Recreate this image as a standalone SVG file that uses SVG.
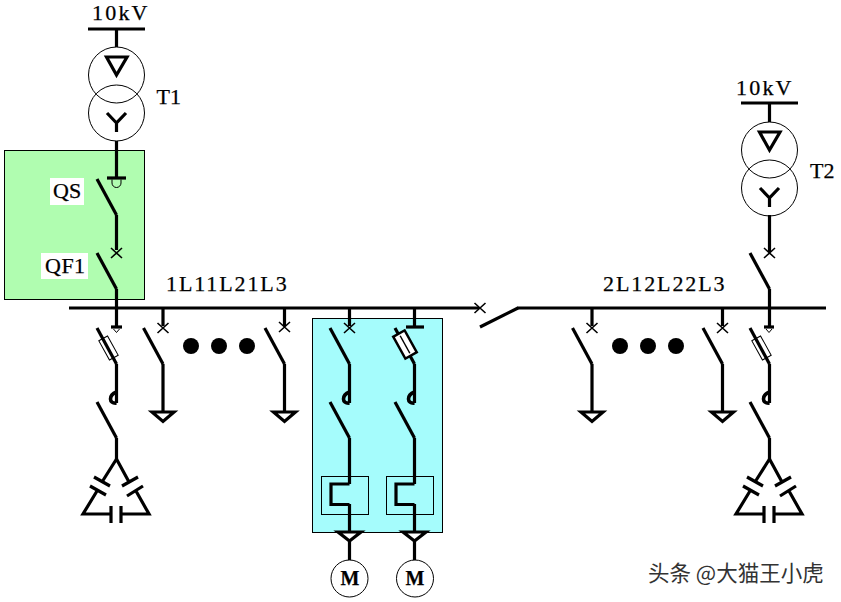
<svg xmlns="http://www.w3.org/2000/svg" xmlns:xlink="http://www.w3.org/1999/xlink" width="841" height="602" viewBox="0 0 841 602">
<style>
.w{fill:none;stroke:#000;stroke-width:3.2}
.t{fill:none;stroke:#000;stroke-width:1}
.x{fill:none;stroke:#000;stroke-width:1.6}
.c{fill:none;stroke:#000;stroke-width:1}
text{font-family:"Liberation Serif","Times New Roman",serif;font-size:22px;fill:#000;stroke:#000;stroke-width:.25px}
.m{font-size:20px;font-weight:bold;text-anchor:middle}
.wm{font-family:"Noto Sans CJK SC","Noto Sans",sans-serif;font-size:21.500px;fill:#333;stroke:#fff;stroke-width:2.500px;paint-order:stroke}
</style>
<defs>
<g id="xf"><circle class="c" cx="0" cy="0" r="28"/><circle class="c" cx="0" cy="38" r="28"/><path class="w" d="M-10 -18H10.500L0 0Z"/><path class="w" d="M-9.500 38L0 48M9.500 38L0 48V57"/></g>
<g id="sw"><path class="w" d="M-19.500 0L0 36"/></g>
<g id="cross"><path class="x" d="M-5.500 -5L5.500 5M5.500 -5L-5.500 5"/></g>
<g id="hook"><path fill="none" stroke="#000" stroke-width="3.600" d="M0 -11C-8 -8 -8 1 0 0"/></g>
<g id="ground"><path class="w" d="M-11 0H11L0 9.500Z"/></g>
<g id="caps"><path class="w" d="M0 0L-14.500 23M-22.500 18L-6.500 27M-26.500 27L-10.500 36M-19.500 32L-33.500 55H-5.500M-5.500 47V64M4.500 47V64M4.500 55H32.500L19.500 32M26.500 27L10.500 37M21.500 18L5.500 27M0 0L12.500 23"/></g>
<g id="oc"><path class="w" d="M0 0H-18.500V20.500H0"/></g>
</defs>

<g id="panels">
<rect x="4.500" y="150.500" width="140" height="149" fill="#b0fdb0" stroke="#000" stroke-width="1"/>
<rect x="312.500" y="318.500" width="130" height="214" fill="#a5fcfc" stroke="#000" stroke-width="1"/>
</g>

<g id="connectors">
<path class="w" d="M69 308H479M517 308H826"/>
<path class="w" d="M116.500 29V47M116.500 141V178M116.500 215V250M116.500 289V326"/>
<path class="w" d="M769.500 103V122M769.500 215V252M769.500 289V326"/>
<path class="w" d="M163 308V326M163 364V412M284.500 308V326M284.500 364V412"/>
<path class="w" d="M349.500 308V326M349.500 364V403M349.500 438V484M349.500 504V532M349.500 541V560"/>
<path class="w" d="M414.500 308V327M414.500 364V403M414.500 438V484M414.500 504V532M414.500 541V560"/>
<path class="w" d="M592 308V326M592 364V412M722.500 308V326M722.500 364V412"/>
<path class="w" d="M116.500 364V403M116.500 438V459M769.500 364V403M769.500 438V459"/>
</g>

<g id="source-1"><path class="w" d="M88 29H145"/><text x="92" y="20" letter-spacing="2.200">10kV</text></g>
<g id="T1"><use xlink:href="#xf" x="116.500" y="75"/><text x="156.500" y="104">T1</text></g>
<g id="QS"><path class="w" d="M107 178H126"/><path class="t" d="M112 179.500V183A4.500 4.500 0 0 0 121 183V179.500"/><use xlink:href="#sw" x="116.500" y="179"/><rect x="50" y="178" width="34" height="27" fill="#fff"/><text x="53" y="198">QS</text></g>
<g id="QF1"><use xlink:href="#cross" x="116.500" y="253"/><use xlink:href="#sw" x="116.500" y="253"/><rect x="41" y="253" width="47" height="26" fill="#fff"/><text x="45" y="273" letter-spacing="0.500">QF1</text></g>

<g id="source-2"><path class="w" d="M741 103H798"/><text x="736" y="95" letter-spacing="2.200">10kV</text></g>
<g id="T2"><use xlink:href="#xf" x="769.500" y="150"/><text x="810" y="178">T2</text></g>
<g id="QF2"><use xlink:href="#cross" x="769.500" y="253"/><use xlink:href="#sw" x="769.500" y="253"/></g>

<g id="labels"><text x="166" y="291" letter-spacing="1.900">1L11L21L3</text><text x="603" y="291" letter-spacing="1.900">2L12L22L3</text></g>

<g id="bay-cap-1">
<path class="w" d="M111 327H122"/><path class="t" d="M113.500 329L116.500 332.500L119.500 329"/>
<use xlink:href="#sw" x="116.500" y="328"/>
<rect class="t" x="-5" y="-11" width="10" height="22" transform="translate(108.500 348) rotate(-29)"/>
<use xlink:href="#hook" x="116.500" y="403"/><use xlink:href="#sw" x="116.500" y="402"/>
<use xlink:href="#caps" x="116.500" y="459"/>
</g>
<g id="bay-1L1"><use xlink:href="#cross" x="163" y="328"/><use xlink:href="#sw" x="163" y="328"/><use xlink:href="#ground" x="163" y="412"/></g>
<g id="dots-1" fill="#000"><circle cx="191" cy="346" r="8"/><circle cx="219" cy="346" r="8"/><circle cx="247" cy="346" r="8"/></g>
<g id="bay-1L3"><use xlink:href="#cross" x="284.500" y="327"/><use xlink:href="#sw" x="284.500" y="328"/><use xlink:href="#ground" x="284.500" y="412"/></g>

<g id="bay-motor-1">
<use xlink:href="#cross" x="349.500" y="328"/><use xlink:href="#sw" x="349.500" y="328"/><use xlink:href="#hook" x="349.500" y="403"/><use xlink:href="#sw" x="349.500" y="402"/>
<rect class="t" x="321.500" y="476.500" width="47" height="38"/><use xlink:href="#oc" x="349.500" y="484"/>
<path class="w" d="M338 532H361L349.500 541Z"/><circle class="c" cx="349.500" cy="578.500" r="18.500"/><text class="m" x="350" y="585">M</text>
</g>
<g id="bay-motor-2">
<path class="w" d="M406 327H424"/>
<use xlink:href="#sw" x="414.500" y="328"/>
<rect x="-6.500" y="-12.500" width="13" height="25" transform="translate(405 344.500) rotate(-29)" fill="#fff" stroke="#000" stroke-width="2.500"/>
<path d="M0 -10V10" transform="translate(405 344.500) rotate(-29)" stroke="#000" stroke-width="1.500"/>
<use xlink:href="#hook" x="414.500" y="403"/><use xlink:href="#sw" x="414.500" y="402"/>
<rect class="t" x="386.500" y="476.500" width="47" height="38"/><use xlink:href="#oc" x="414.500" y="484"/>
<path class="w" d="M403 532H426L414.500 541Z"/><circle class="c" cx="415" cy="578.500" r="18.500"/><text class="m" x="415" y="585">M</text>
</g>

<g id="bus-tie"><use xlink:href="#cross" x="480" y="308"/><path class="w" d="M480 327L518 308"/></g>

<g id="bay-2L1"><use xlink:href="#cross" x="592" y="328"/><use xlink:href="#sw" x="592" y="328"/><use xlink:href="#ground" x="592" y="412"/></g>
<g id="dots-2" fill="#000"><circle cx="620" cy="346" r="8"/><circle cx="648" cy="346" r="8"/><circle cx="676" cy="346" r="8"/></g>
<g id="bay-2L3"><use xlink:href="#cross" x="722.500" y="328"/><use xlink:href="#sw" x="722.500" y="328"/><use xlink:href="#ground" x="722.500" y="412"/></g>
<g id="bay-cap-2">
<path class="w" d="M764 327H774"/><path class="t" d="M766 329L769 332.500L772 329"/>
<use xlink:href="#sw" x="769.500" y="328"/>
<rect class="t" x="-5" y="-11" width="10" height="22" transform="translate(761.500 348) rotate(-29)"/>
<use xlink:href="#hook" x="769.500" y="403"/><use xlink:href="#sw" x="769.500" y="402"/>
<use xlink:href="#caps" x="769.500" y="459"/>
</g>

<text class="wm" x="648" y="581">头条 @大猫王小虎</text>
</svg>
